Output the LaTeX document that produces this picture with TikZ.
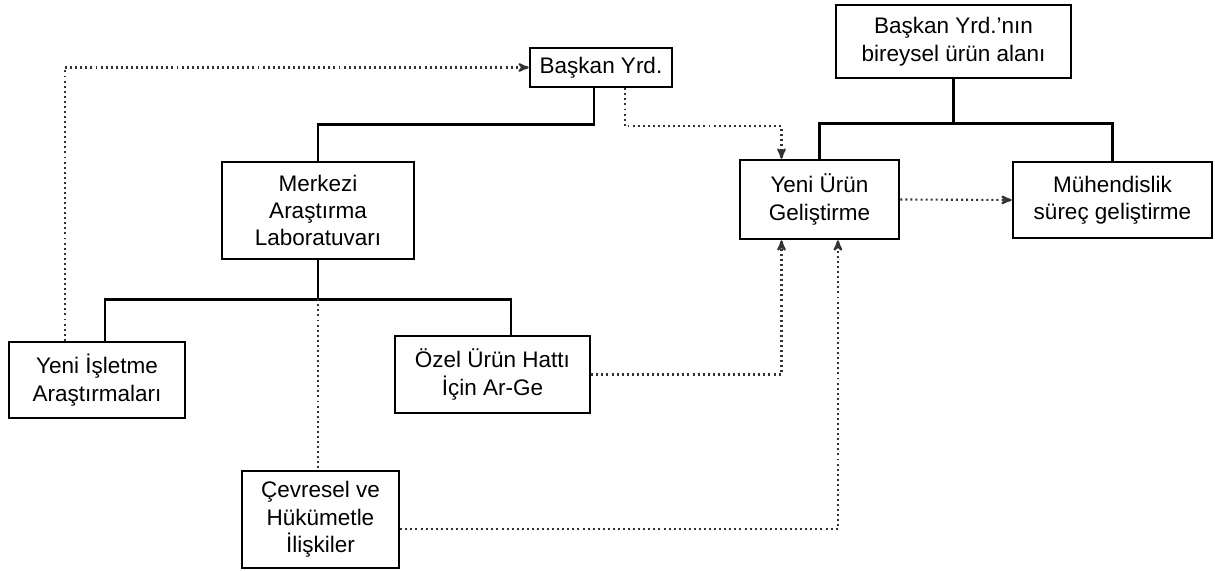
\documentclass[tikz,border=0pt]{standalone}
\usepackage{fontspec}
\setmainfont{Liberation Sans}
\usepackage{tikz}
\usetikzlibrary{arrows}

\begin{document}
\begin{tikzpicture}[x=0.025cm,y=-0.025cm,>=stealth',
					  box node/.style={draw,rectangle,align=center,inner sep=0pt,line width=1.8pt,
					    font=\fontsize{16}{19.5}\selectfont},
					  tree line/.style={line width=1.8pt},
					  dot line/.style={->,dash pattern=on 1.4pt off 2.2pt,line width=1.5pt,draw=black!80}]
					\useasboundingbox (0,0) rectangle (1215,571);

					  \node[box node,minimum width=3.55cm,minimum height=0.975cm] (baskan) at (601,67.5) {Başkan Yrd.};
					  \node[box node,minimum width=5.875cm,minimum height=1.825cm] (bireysel) at (953.5,41.5) {Başkan Yrd.’nın\\bireysel ürün alanı};
					  \node[box node,minimum width=3.975cm,minimum height=1.975cm] (yeniurun) at (819.5,199.5) {Yeni Ürün\\Geliştirme};
					  \node[box node,minimum width=4.975cm,minimum height=1.9cm] (muhendis) at (1112.5,200) {Mühendislik\\süreç geliştirme};
					  \node[box node,minimum width=4.8cm,minimum height=2.425cm] (merkezi) at (318,210.5) {Merkezi\\Araştırma\\Laboratuvarı};
					  \node[box node,minimum width=4.4cm,minimum height=1.9cm] (isletme) at (97,380) {Yeni İşletme\\Araştırmaları};
					  \node[box node,minimum width=4.875cm,minimum height=1.925cm] (ozel) at (492.5,374.5) {Özel Ürün Hattı\\İçin Ar-Ge};
					  \node[box node,minimum width=3.925cm,minimum height=2.425cm] (cevre) at (320.5,519.5) {Çevresel ve\\Hükümetle\\İlişkiler};

					  % solid lines of the tree
					  \draw[tree line] ([xshift=-0.175cm]baskan.south) -- ++(0,36) -| (merkezi.north);
					  \draw[tree line] (bireysel.south) -- ++(0,44) coordinate (bj);
					  \draw[tree line] (bj) -| (yeniurun.north);
					  \draw[tree line] (bj) -| (muhendis.north);
					  \draw[tree line] (merkezi.south) -- ++(0,39) coordinate (mj);
					  \draw[tree line] (mj) -| ([xshift=0.2cm]isletme.north);
					  \draw[tree line] (mj) -| ([xshift=0.46cm]ozel.north);

					  % dotted links
					  \draw[dot line] ([xshift=-0.8cm]isletme.north) |- (baskan.west);
					  \draw[dot line] ([xshift=0.6cm]baskan.south) -- ++(0,38) -| ([xshift=-0.95cm]yeniurun.north);
					  \draw[dot line] (yeniurun.east) -- (muhendis.west);
					  \draw[dot line,-] (mj) -- (mj |- cevre.north);
					  \draw[dot line] (ozel.east) -| ([xshift=-0.95cm]yeniurun.south);
					  \draw[dot line] ([yshift=-0.24cm]cevre.east) -| ([xshift=0.46cm]yeniurun.south);
					\end{tikzpicture}
\end{document}
